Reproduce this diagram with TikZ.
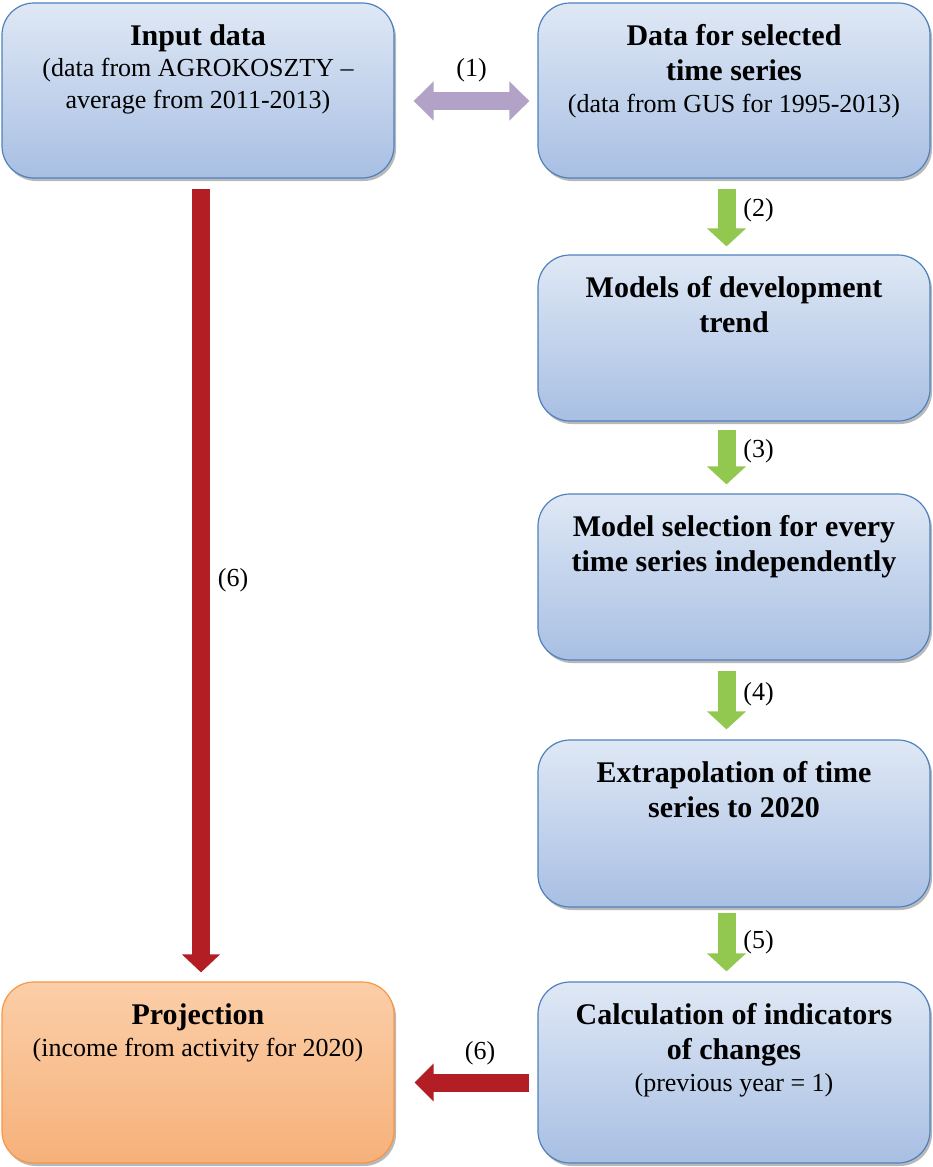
\documentclass[tikz,border=0pt]{standalone}
\usepackage{fontspec}
\setmainfont{Liberation Serif}
\usetikzlibrary{arrows.meta,shadows}

\definecolor{boxtop}{HTML}{DFE8F5}
\definecolor{boxbot}{HTML}{A8BFE3}
\definecolor{boxline}{HTML}{4F81BD}
\definecolor{projtop}{HTML}{FBCEA8}
\definecolor{projbot}{HTML}{F6B17A}
\definecolor{projline}{HTML}{F79646}
\definecolor{flowgreen}{HTML}{92C850}
\definecolor{flowred}{HTML}{B31E24}
\definecolor{flowlilac}{HTML}{B3A2C7}

\newcommand{\boxtext}[3]{\parbox[c][#1][t]{196pt}{\centering\vspace*{8.75pt}%
  {\fontsize{15}{17.5}\selectfont\bfseries\strut #2\par}\vspace{0.5pt}%
  {\fontsize{13}{15.5}\selectfont #3\par}}}

\begin{document}
\begin{tikzpicture}[x=0.5pt,y=-0.5pt,
  stage/.style={draw=boxline,line width=0.6pt,rounded corners=16pt,
    top color=boxtop,bottom color=boxbot,inner sep=0pt,minimum width=196pt,
    drop shadow={shadow xshift=1pt,shadow yshift=-1.5pt,fill=black!55,opacity=0.5}},
  projstage/.style={stage,draw=projline,top color=projtop,bottom color=projbot},
  flow/.style={line width=9pt,-{Triangle[width=19pt,length=9pt]}},
  steplabel/.style={font=\fontsize{13}{15}\selectfont}]
\useasboundingbox (0,0) rectangle (932,1167);

\node [stage,minimum height=87.5pt] (a) at (198,90.5)
  {\boxtext{87.5pt}{Input data}{(data from AGROKOSZTY --\\average from 2011-2013)}};
\node [stage,minimum height=87.5pt] (b) at (734,90.5)
  {\boxtext{87.5pt}{Data for selected\\time series}{(data from GUS for 1995-2013)}};
\node [stage,minimum height=83pt] (c) at (734,338)
  {\boxtext{83pt}{Models of development\\trend}{}};
\node [stage,minimum height=83pt] (d) at (734,577)
  {\boxtext{83pt}{Model selection for every\\time series independently}{}};
\node [stage,minimum height=83.5pt] (e) at (734,823.5)
  {\boxtext{83.5pt}{Extrapolation of time\\series to 2020}{}};
\node [stage,minimum height=90.5pt] (f) at (734,1072.5)
  {\boxtext{90.5pt}{Calculation of indicators\\of changes}{(previous year = 1)}};
\node [projstage,minimum height=90.5pt] (g) at (198,1072.5)
  {\boxtext{90.5pt}{Projection}{(income from activity for 2020)}};

\draw [flowlilac,line width=9pt,{Triangle[width=19pt,length=10pt]}-{Triangle[width=19pt,length=10pt]}]
  ([xshift=9.5pt,yshift=-5.25pt]a.east) -- ([xshift=-4pt,yshift=-5.25pt]b.west)
  node [steplabel,midway,yshift=15.5pt,text=black] {(1)};
\draw [flow,flowgreen] ([xshift=-3.75pt,yshift=-5pt]b.south) -- ([xshift=-3.75pt,yshift=4pt]c.north)
  node [steplabel,pos=.37,xshift=16pt,text=black] {(2)};
\draw [flow,flowgreen] ([xshift=-3.75pt,yshift=-4pt]c.south) -- ([xshift=-3.75pt,yshift=4.5pt]d.north)
  node [steplabel,pos=.4,xshift=16pt,text=black] {(3)};
\draw [flow,flowgreen] ([xshift=-3.75pt,yshift=-5pt]d.south) -- ([xshift=-3.75pt,yshift=5pt]e.north)
  node [steplabel,pos=.4,xshift=16pt,text=black] {(4)};
\draw [flow,flowgreen] ([xshift=-3.75pt,yshift=-2.5pt]e.south) -- ([xshift=-3.75pt,yshift=5pt]f.north)
  node [steplabel,pos=.5,xshift=16pt,text=black] {(5)};
\draw [flow,flowred,-{Triangle[width=18.5pt,length=9pt]}] ([xshift=1.5pt,yshift=-5pt]a.south) -- ([xshift=1.5pt,yshift=4.5pt]g.north)
  node [steplabel,midway,xshift=16pt,text=black] {(6)};
\draw [flow,flowred,-{Triangle[width=18.5pt,length=9.5pt]}] ([xshift=-4pt,yshift=-5pt]f.west) -- ([xshift=10pt,yshift=-5pt]g.east)
  node [steplabel,pos=.43,yshift=14.5pt,text=black] {(6)};
\end{tikzpicture}
\end{document}
